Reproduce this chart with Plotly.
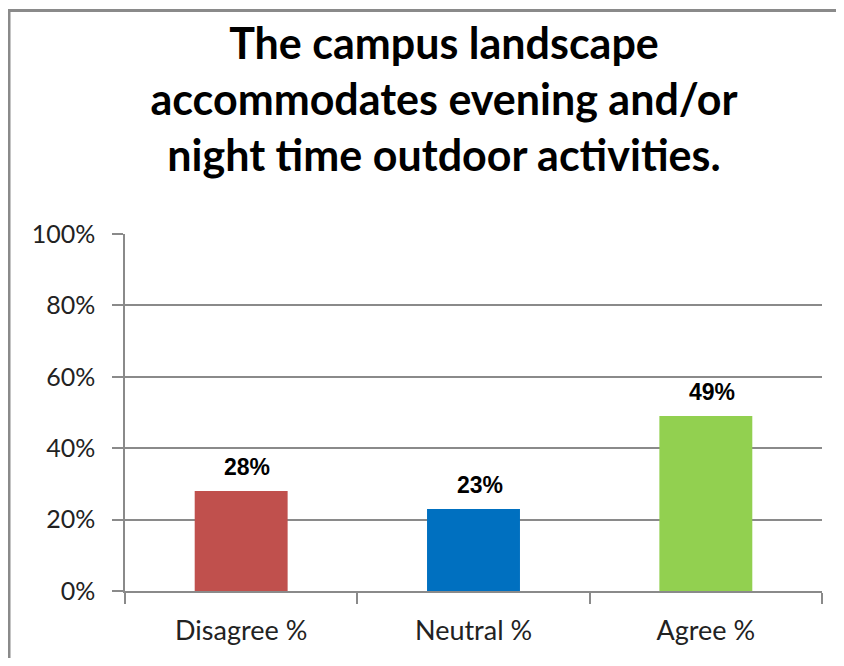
import plotly.graph_objects as go

categories = ["Disagree %", "Neutral %", "Agree %"]
values = [28, 23, 49]
labels = ["28%", "23%", "49%"]
colors = ["#C0504D", "#0070C0", "#92D050"]
y_ticks = [0, 20, 40, 60, 80, 100]
y_ticktext = ["0%", "20%", "40%", "60%", "80%", "100%"]
title_text = "The campus landscape<br>accommodates evening and/or<br>night time outdoor activities."

# page has an 8px body margin on every side
W, H = 828, 650
L, R, T, B = 117, 14, 226, 64

fig = go.Figure()
fig.add_trace(go.Bar(
    x=categories, y=values,
    marker=dict(color=colors, line=dict(width=0)),
    width=0.4,
    hoverinfo="skip",
))

for c, v, t in zip(categories, values, labels):
    fig.add_annotation(
        x=c, y=v, text=f"<b>{t}</b>", showarrow=False,
        yanchor="bottom", yshift=9, xshift=6,
        font=dict(family="Liberation Sans, Arial", size=23, color="#000000"),
    )

pw = W - L - R
ph = H - T - B
def px_x(px):
    return (px - L) / pw
def px_y(py):
    return (H - B - py) / ph
gray = "#8a8a8a"
fig.add_shape(type="line", xref="paper", yref="paper",
              x0=px_x(0), x1=px_x(W + 5), y0=px_y(0.5), y1=px_y(0.5),
              line=dict(color=gray, width=3))
fig.add_shape(type="line", xref="paper", yref="paper",
              x0=px_x(1), x1=px_x(1), y0=px_y(0), y1=px_y(H + 5),
              line=dict(color=gray, width=3))

fig.update_layout(
    width=W, height=H,
    margin=dict(l=L, r=R, t=T, b=B),
    paper_bgcolor="white", plot_bgcolor="white",
    showlegend=False,
    bargap=0.6,
    title=dict(
        text=f"<b>{title_text}</b>",
        x=(444 - 8) / W, xanchor="center",
        y=1 - 51 / H, yanchor="top",
        font=dict(family="Lato", size=43, color="#000000"),
    ),
    font=dict(family="Lato", color="#222222"),
)
fig.update_xaxes(
    type="category",
    showline=True, linecolor=gray, linewidth=1.5,
    ticks="outside", tickson="boundaries", ticklen=11, tickcolor=gray, tickwidth=1.5,
    tickfont=dict(family="Lato", size=27, color="#222222"),
    ticklabelstandoff=15,
    showgrid=False,
)
fig.update_yaxes(
    range=[0, 100],
    tickvals=y_ticks, ticktext=y_ticktext,
    showline=True, linecolor=gray, linewidth=1.5,
    ticks="outside", ticklen=11, tickcolor=gray, tickwidth=1.5,
    showgrid=True, gridcolor=gray, gridwidth=1.5,
    tickfont=dict(family="Lato", size=25, color="#222222"),
    ticklabelstandoff=12,
    zeroline=False,
)

fig.write_html("out.html")
